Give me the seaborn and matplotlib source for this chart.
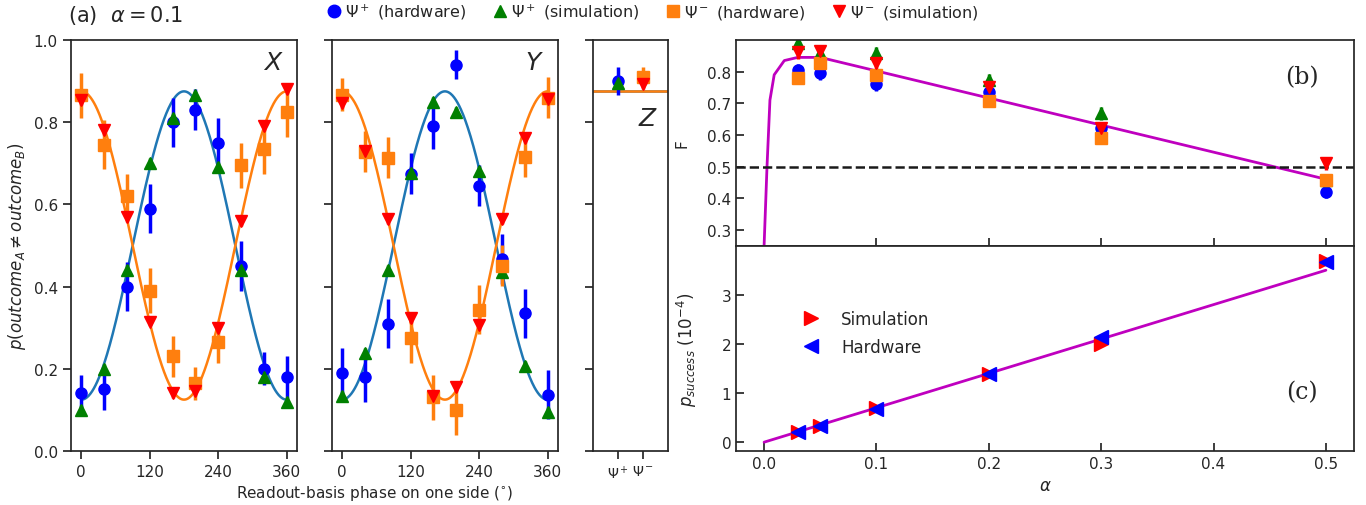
import numpy as np
import matplotlib
matplotlib.use("Agg")
import matplotlib.pyplot as plt
from matplotlib.lines import Line2D
import seaborn as sns

# ---- panel (a): readout phase scans, alpha = 0.1
phase = [0, 40, 80, 120, 160, 200, 240, 280, 320, 360]

x_plus_hw = [0.14, 0.15, 0.40, 0.59, 0.80, 0.83, 0.75, 0.45, 0.20, 0.18]
x_plus_hw_err = [0.045, 0.05, 0.06, 0.06, 0.06, 0.05, 0.06, 0.06, 0.04, 0.05]
x_plus_sim = [0.10, 0.20, 0.44, 0.70, 0.81, 0.865, 0.69, 0.44, 0.18, 0.12]
x_minus_hw = [0.865, 0.745, 0.62, 0.39, 0.23, 0.165, 0.265, 0.695, 0.735, 0.825]
x_minus_hw_err = [0.055, 0.06, 0.055, 0.055, 0.05, 0.04, 0.05, 0.055, 0.06, 0.06]
x_minus_sim = [0.855, 0.78, 0.57, 0.315, 0.14, 0.145, 0.30, 0.56, 0.79, 0.88]

y_plus_hw = [0.19, 0.18, 0.31, 0.675, 0.79, 0.94, 0.645, 0.467, 0.335, 0.137]
y_plus_hw_err = [0.06, 0.06, 0.06, 0.05, 0.055, 0.035, 0.05, 0.06, 0.06, 0.06]
y_plus_sim = [0.135, 0.238, 0.441, 0.676, 0.85, 0.826, 0.682, 0.435, 0.208, 0.096]
y_minus_hw = [0.867, 0.728, 0.714, 0.274, 0.131, 0.10, 0.344, 0.451, 0.716, 0.86]
y_minus_hw_err = [0.04, 0.05, 0.05, 0.06, 0.055, 0.06, 0.06, 0.05, 0.05, 0.05]
y_minus_sim = [0.847, 0.731, 0.564, 0.323, 0.135, 0.155, 0.307, 0.564, 0.761, 0.856]

sim_err = 0.012

z_states = [0, 1]
z_state_labels = ['Ψ$^+$', 'Ψ$^-$']
z_plus_hw, z_plus_hw_err = 0.90, 0.035
z_plus_sim = 0.895
z_minus_hw, z_minus_hw_err = 0.91, 0.025
z_minus_sim = 0.893
z_theory = 0.875   # theory Z value; X/Y theory curves swing between 1-z and z

# ---- panel (b): fidelity vs alpha
alphas = [0.03, 0.05, 0.1, 0.2, 0.3, 0.5]
f_plus_hw = [0.805, 0.795, 0.76, 0.737, 0.621, 0.421]
f_plus_sim = [0.889, 0.858, 0.858, 0.774, 0.668, 0.458]
f_minus_hw = [0.781, 0.828, 0.789, 0.707, 0.59, 0.458]
f_minus_sim = [0.861, 0.865, 0.826, 0.75, 0.621, 0.51]
f_err = 0.02
f_theory_alpha = [0.0, 0.0026, 0.0052, 0.009, 0.018, 0.03, 0.05, 0.5]
f_theory = [0.25, 0.5, 0.71, 0.79, 0.835, 0.845, 0.845, 0.46]

# ---- panel (c): success probability (1e-4)
p_sim = [0.20, 0.33, 0.70, 1.38, 1.99, 3.68]
p_hw = [0.21, 0.32, 0.67, 1.39, 2.14, 3.66]
p_theory_alpha = [0.0, 0.5]
p_theory = [0.0, 3.5]

BLUE, GREEN, RED, MAG, ORANGE = '#0000ff', '#008000', '#ff0000', '#bf00bf', '#ff7f0e'
TBLUE = '#1f77b4'

sns.set_theme(style="ticks")
plt.rcParams['font.family'] = ['DejaVu Sans']
plt.rcParams['axes.edgecolor'] = '0.15'

fig = plt.figure(figsize=(13.66, 5.06), dpi=100)
ax_x = fig.add_axes([0.052, 0.1067, 0.1654, 0.8123])
ax_y = fig.add_axes([0.243, 0.1067, 0.1654, 0.8123], sharey=ax_x)
ax_z = fig.add_axes([0.4339, 0.1067, 0.0553, 0.8123], sharey=ax_x)
ax_b = fig.add_axes([0.5388, 0.5125, 0.4524, 0.4065])
ax_c = fig.add_axes([0.5388, 0.1067, 0.4524, 0.4058], sharex=ax_b)

theta = np.linspace(0, 360, 361)
curve_plus = 0.5 - (z_theory - 0.5) * np.cos(np.radians(theta))
curve_minus = 0.5 + (z_theory - 0.5) * np.cos(np.radians(theta))

eb = dict(ls='none', elinewidth=2.5, capsize=0)
for ax, ph, pe, ps, mh, me, ms_, name in [
        (ax_x, x_plus_hw, x_plus_hw_err, x_plus_sim, x_minus_hw, x_minus_hw_err, x_minus_sim, '$X$'),
        (ax_y, y_plus_hw, y_plus_hw_err, y_plus_sim, y_minus_hw, y_minus_hw_err, y_minus_sim, '$Y$')]:
    sns.lineplot(x=theta, y=curve_plus, ax=ax, color=TBLUE, lw=1.8)
    sns.lineplot(x=theta, y=curve_minus, ax=ax, color=ORANGE, lw=1.8)
    ax.errorbar(phase, ph, yerr=pe, marker='o', color=BLUE, ms=8, **eb)
    ax.errorbar(phase, ps, yerr=sim_err, marker='^', color=GREEN, ms=9, **eb)
    ax.errorbar(phase, mh, yerr=me, marker='s', color=ORANGE, ms=8, **eb)
    ax.errorbar(phase, ms_, yerr=sim_err, marker='v', color=RED, ms=9, **eb)
    ax.set_xticks([0, 120, 240, 360])
    ax.text(0.94, 0.975, name, transform=ax.transAxes, ha='right', va='top', fontsize=18)

ax_x.set_ylim(0, 1)
ax_x.set_yticks([0, 0.2, 0.4, 0.6, 0.8, 1.0])
ax_x.set_ylabel('$p(outcome_A \\neq outcome_B)$', fontsize=12)
ax_y.tick_params(labelleft=False)

ax_z.axhline(z_theory, color=TBLUE, lw=1.8)
ax_z.axhline(z_theory, color=ORANGE, lw=1.8)
ax_z.errorbar([z_states[0]], [z_plus_hw], yerr=z_plus_hw_err, marker='o', color=BLUE, ms=8, **eb)
ax_z.errorbar([z_states[0]], [z_plus_sim], yerr=sim_err, marker='^', color=GREEN, ms=9, **eb)
ax_z.errorbar([z_states[1]], [z_minus_hw], yerr=z_minus_hw_err, marker='s', color=ORANGE, ms=8, **eb)
ax_z.errorbar([z_states[1]], [z_minus_sim], yerr=sim_err, marker='v', color=RED, ms=9, **eb)
ax_z.set_xlim(-1, 2)
ax_z.set_xticks(z_states)
ax_z.set_xticklabels(z_state_labels, fontsize=10)
ax_z.tick_params(labelleft=False)
ax_z.text(0.86, 0.84, '$Z$', transform=ax_z.transAxes, ha='right', va='top', fontsize=18)

fig.text(0.274, 0.024, 'Readout-basis phase on one side ($^{\\circ}$)', ha='center', va='center', fontsize=11)
fig.text(0.05, 0.97, '(a)  $\\alpha = 0.1$', ha='left', va='center', fontsize=15)

# panel (b)
sns.lineplot(x=f_theory_alpha, y=f_theory, ax=ax_b, color=MAG, lw=2)
ax_b.axhline(0.5, color='k', ls='--', lw=1.8)
ax_b.errorbar(alphas, f_plus_hw, yerr=f_err, marker='o', color=BLUE, ms=8, **eb)
ax_b.errorbar(alphas, f_plus_sim, yerr=f_err, marker='^', color=GREEN, ms=9, **eb)
ax_b.errorbar(alphas, f_minus_hw, yerr=f_err, marker='s', color=ORANGE, ms=8, **eb)
ax_b.errorbar(alphas, f_minus_sim, yerr=f_err, marker='v', color=RED, ms=9, **eb)
ax_b.set_ylim(0.25, 0.9)
ax_b.set_yticks([0.3, 0.4, 0.5, 0.6, 0.7, 0.8])
ax_b.set_ylabel('F', fontsize=11)
ax_b.yaxis.set_label_coords(-0.075, 0.5)
ax_b.tick_params(direction='in', labelbottom=False)
ax_b.text(0.915, 0.82, '(b)', transform=ax_b.transAxes, ha='center', va='center',
          fontsize=17, family='DejaVu Serif')

# panel (c)
sns.lineplot(x=p_theory_alpha, y=p_theory, ax=ax_c, color=MAG, lw=2)
ax_c.plot(alphas, p_sim, ls='none', marker='>', color=RED, ms=10, label='Simulation')
ax_c.plot(alphas, p_hw, ls='none', marker='<', color=BLUE, ms=10, label='Hardware')
ax_c.set_ylim(-0.18, 4.0)
ax_c.set_yticks([0, 1, 2, 3])
ax_c.set_xticks([0.0, 0.1, 0.2, 0.3, 0.4, 0.5])
ax_c.set_xlabel('$\\alpha$', fontsize=12)
ax_c.set_ylabel('$p_{success}$ $(10^{-4})$', fontsize=12)
ax_c.yaxis.set_label_coords(-0.06, 0.5)
ax_c.tick_params(direction='in')
ax_c.legend(loc='center left', bbox_to_anchor=(0.07, 0.575), frameon=False, fontsize=12,
            handletextpad=0.8, labelspacing=0.6)
ax_c.text(0.915, 0.29, '(c)', transform=ax_c.transAxes, ha='center', va='center',
          fontsize=17, family='DejaVu Serif')

handles = [Line2D([], [], ls='none', marker='o', color=BLUE, ms=9),
           Line2D([], [], ls='none', marker='^', color=GREEN, ms=9),
           Line2D([], [], ls='none', marker='s', color=ORANGE, ms=9),
           Line2D([], [], ls='none', marker='v', color=RED, ms=9)]
labels = ['Ψ$^+$ (hardware)', 'Ψ$^+$ (simulation)', 'Ψ$^-$ (hardware)', 'Ψ$^-$ (simulation)']
fig.legend(handles, labels, loc='center', bbox_to_anchor=(0.477, 0.975), ncol=4, frameon=False,
           fontsize=11.5, handletextpad=0.1, columnspacing=1.5, handlelength=1.2)

fig.savefig('out.png', dpi=100)
